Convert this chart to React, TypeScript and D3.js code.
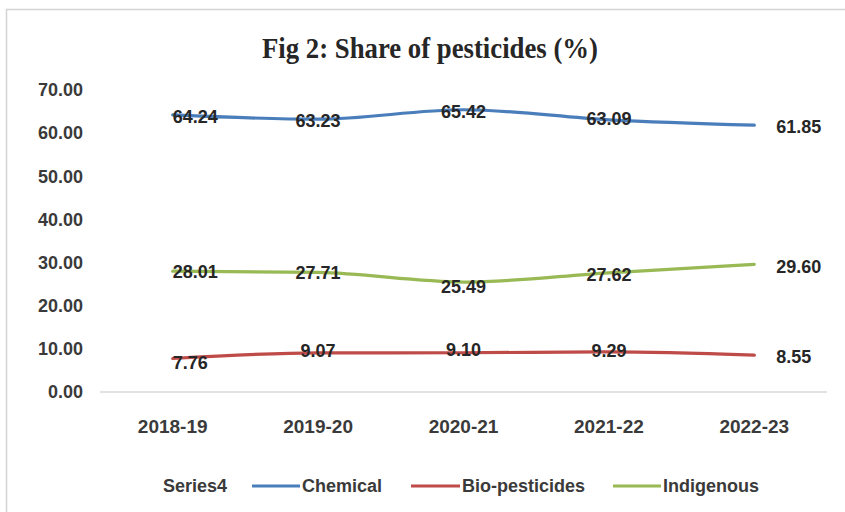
import React from "react";
import * as d3 from "d3";

const years = ["2018-19", "2019-20", "2020-21", "2021-22", "2022-23"];
const chemical = [64.24, 63.23, 65.42, 63.09, 61.85];
const bioPesticides = [7.76, 9.07, 9.1, 9.29, 8.55];
const indigenous = [28.01, 27.71, 25.49, 27.62, 29.6];
const yTicks = [0, 10, 20, 30, 40, 50, 60, 70];
const titleText = "Fig 2: Share of pesticides (%)";

const seriesList = [
  { name: "Chemical", values: chemical, color: "#4a7ebb" },
  { name: "Bio-pesticides", values: bioPesticides, color: "#be4b48" },
  { name: "Indigenous", values: indigenous, color: "#98b954" },
];

// small vertical nudges for value labels so they sit like the auto-placed ones
const labelNudge: Record<string, number[]> = {
  Chemical: [2, 1, 2, -1, 2],
  "Bio-pesticides": [4, -2, -3, -1, 2],
  Indigenous: [1, 0, 5, 2, 2],
};

const W = 845;
const H = 512;
const FONT = "'Liberation Sans', Arial, sans-serif";

export default function App() {
  const x = d3.scalePoint<string>().domain(years).range([100, 827]).padding(0.5);
  const y = d3.scaleLinear().domain([0, 70]).range([392, 90]);
  const line = d3
    .line<number>()
    .x((_, i) => x(years[i]) as number)
    .y((d) => y(d))
    .curve(d3.curveMonotoneX);

  const legendItems = [
    { name: "Series4", color: null as string | null, x0: 163, lineW: 0 },
    { name: "Chemical", color: seriesList[0].color, x0: 252, lineW: 48 },
    { name: "Bio-pesticides", color: seriesList[1].color, x0: 411, lineW: 49 },
    { name: "Indigenous", color: seriesList[2].color, x0: 613, lineW: 48 },
  ];

  return (
    <svg
      width={W}
      height={H}
      style={{ position: "absolute", left: 0, top: 0, background: "#fff" }}
    >
      <rect x={0} y={0} width={W} height={H} fill="#fff" />
      <rect x={6.5} y={9.5} width={W + 20} height={H + 20} fill="none" stroke="#d4d4d4" strokeWidth={1.5} />

      <text
        x={262}
        y={58}
        textLength={336}
        lengthAdjust="spacingAndGlyphs"
        fontFamily="'Liberation Serif', 'Times New Roman', serif"
        fontWeight="bold"
        fontSize={30}
        fill="#262626"
      >
        {titleText}
      </text>

      {yTicks.map((t) => (
        <text
          key={t}
          x={83}
          y={y(t)}
          dy="0.35em"
          textAnchor="end"
          fontFamily={FONT}
          fontWeight="bold"
          fontSize={18}
          fill="#3a3a3a"
        >
          {t.toFixed(2)}
        </text>
      ))}

      <line x1={100} x2={827} y1={y(0)} y2={y(0)} stroke="#d9d9d9" strokeWidth={1.5} />

      {years.map((yr) => (
        <text
          key={yr}
          x={x(yr)}
          y={426}
          dy="0.35em"
          textAnchor="middle"
          fontFamily={FONT}
          fontWeight="bold"
          fontSize={19}
          fill="#3a3a3a"
        >
          {yr}
        </text>
      ))}

      {seriesList.map((s) => (
        <path
          key={s.name}
          d={line(s.values) as string}
          fill="none"
          stroke={s.color}
          strokeWidth={3.2}
          strokeLinecap="round"
        />
      ))}

      {seriesList.map((s) =>
        s.values.map((v, i) => {
          const px = x(years[i]) as number;
          const last = i === years.length - 1;
          const first = i === 0;
          const lx = last ? px + 22 : first ? px : px;
          const anchor = last || first ? "start" : "middle";
          return (
            <text
              key={s.name + i}
              x={lx}
              y={y(v) + labelNudge[s.name][i]}
              dy="0.35em"
              textAnchor={anchor}
              fontFamily={FONT}
              fontWeight="bold"
              fontSize={18}
              fill="#262626"
            >
              {v.toFixed(2)}
            </text>
          );
        })
      )}

      {legendItems.map((it) => (
        <g key={it.name}>
          {it.color && (
            <line
              x1={it.x0}
              x2={it.x0 + it.lineW}
              y1={486}
              y2={486}
              stroke={it.color}
              strokeWidth={3}
            />
          )}
          <text
            x={it.x0 + it.lineW + (it.color ? 2 : 0)}
            y={486}
            dy="0.35em"
            fontFamily={FONT}
            fontWeight="bold"
            fontSize={18}
            fill="#3a3a3a"
          >
            {it.name}
          </text>
        </g>
      ))}
    </svg>
  );
}
